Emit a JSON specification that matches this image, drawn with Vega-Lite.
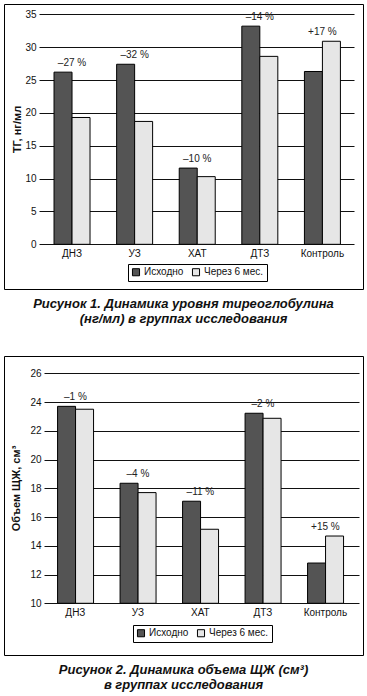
{
  "$schema": "https://vega.github.io/schema/vega-lite/v6.json",
  "padding": {"left": 3, "top": 3, "right": 0, "bottom": 0},
  "spacing": 28,
  "config": {
    "font": "Liberation Sans",
    "view": {"stroke": "black", "strokeWidth": 1},
    "axis": {"labelColor": "#111", "tickColor": "#111", "titleColor": "#111", "labelFont": "Liberation Sans", "titleFont": "Liberation Sans"},
    "legend": {"labelColor": "#111"}
  },
  "vconcat": [
    {
      "width": 359,
      "height": 285,
      "data": {"values": [
        {"group": "ДНЗ", "series": "Исходно", "value": 26.2, "label": "–27 %"},
        {"group": "ДНЗ", "series": "Через 6 мес.", "value": 19.3},
        {"group": "УЗ", "series": "Исходно", "value": 27.4, "label": "–32 %"},
        {"group": "УЗ", "series": "Через 6 мес.", "value": 18.7},
        {"group": "ХАТ", "series": "Исходно", "value": 11.6, "label": "–10 %"},
        {"group": "ХАТ", "series": "Через 6 мес.", "value": 10.3},
        {"group": "ДТЗ", "series": "Исходно", "value": 33.2, "label": "–14 %"},
        {"group": "ДТЗ", "series": "Через 6 мес.", "value": 28.6},
        {"group": "Контроль", "series": "Исходно", "value": 26.3, "label": "+17 %"},
        {"group": "Контроль", "series": "Через 6 мес.", "value": 30.9}
      ]},
      "title": {
        "text": ["Рисунок 1. Динамика уровня тиреоглобулина", "(нг/мл) в группах исследования"],
        "orient": "bottom", "anchor": "middle", "fontSize": 13, "fontStyle": "italic", "fontWeight": "bold",
        "offset": 9, "lineHeight": 15, "color": "#111"
      },
      "encoding": {
        "x": {
          "field": "group", "type": "nominal", "sort": null,
          "scale": {"paddingInner": 0.425, "paddingOuter": 0.58, "align": 0.689},
          "axis": {"orient": "bottom", "offset": -45, "domain": false, "ticks": false, "grid": false, "labelAngle": 0, "labelPadding": 4, "labelFontSize": 10, "title": null}
        },
        "y": {
          "field": "value", "type": "quantitative",
          "scale": {"domain": [-6.8, 36.57], "nice": false, "zero": false},
          "axis": {"values": [0, 5, 10, 15, 20, 25, 30, 35], "orient": "left", "offset": -350, "domain": false, "grid": false, "ticks": true, "tickSize": 315, "tickWidth": 1, "labelPadding": 3, "labelFontSize": 10, "title": "ТГ, нг/мл", "titleFontSize": 11, "titleFontWeight": "bold", "titleX": -337, "titleY": 125, "titleAngle": -90, "titleAlign": "center", "titleBaseline": "middle"}
        }
      },
      "layer": [
        {
          "mark": {"type": "bar", "stroke": "black", "strokeWidth": 1},
          "encoding": {
            "xOffset": {"field": "series", "type": "nominal", "sort": null, "scale": {"paddingInner": 0, "paddingOuter": 0}},
            "fill": {
              "field": "series", "type": "nominal",
              "scale": {"domain": ["Исходно", "Через 6 мес."], "range": ["#545454", "#e6e6e6"]},
              "legend": {"orient": "none", "legendX": 124, "legendY": 260, "direction": "horizontal", "title": null, "strokeColor": "black", "padding": 3, "symbolType": "square", "symbolSize": 50, "symbolStrokeColor": "black", "symbolStrokeWidth": 1, "labelFontSize": 10, "labelOffset": 3, "columnPadding": 6}
            }
          }
        },
        {
          "transform": [
            {"joinaggregate": [{"op": "max", "field": "value", "as": "top"}], "groupby": ["group"]},
            {"filter": "datum.series === 'Исходно'"}
          ],
          "mark": {"type": "text", "fontSize": 10, "baseline": "middle", "dy": -9, "color": "#222"},
          "encoding": {
            "y": {"field": "top", "type": "quantitative", "title": "ТГ, нг/мл"},
            "text": {"field": "label"}
          }
        }
      ]
    },
    {
      "width": 359,
      "height": 299,
      "data": {"values": [
        {"group": "ДНЗ", "series": "Исходно", "value": 23.7, "label": "–1 %"},
        {"group": "ДНЗ", "series": "Через 6 мес.", "value": 23.5},
        {"group": "УЗ", "series": "Исходно", "value": 18.35, "label": "–4 %"},
        {"group": "УЗ", "series": "Через 6 мес.", "value": 17.7},
        {"group": "ХАТ", "series": "Исходно", "value": 17.1, "label": "–11 %"},
        {"group": "ХАТ", "series": "Через 6 мес.", "value": 15.15},
        {"group": "ДТЗ", "series": "Исходно", "value": 23.22, "label": "–2 %"},
        {"group": "ДТЗ", "series": "Через 6 мес.", "value": 22.87},
        {"group": "Контроль", "series": "Исходно", "value": 12.8, "label": "+15 %"},
        {"group": "Контроль", "series": "Через 6 мес.", "value": 14.68}
      ]},
      "title": {
        "text": ["Рисунок 2. Динамика объема ЩЖ (см³)", "в группах исследования"],
        "orient": "bottom", "anchor": "middle", "fontSize": 13, "fontStyle": "italic", "fontWeight": "bold",
        "offset": 9, "lineHeight": 15, "color": "#111"
      },
      "encoding": {
        "x": {
          "field": "group", "type": "nominal", "sort": null,
          "scale": {"paddingInner": 0.43, "paddingOuter": 0.587, "align": 0.73},
          "axis": {"orient": "bottom", "offset": -51.7, "domain": false, "ticks": false, "grid": false, "labelAngle": 0, "labelPadding": 4, "labelFontSize": 10, "title": null}
        },
        "y": {
          "field": "value", "type": "quantitative",
          "scale": {"domain": [6.403, 27.203], "nice": false, "zero": false},
          "axis": {"values": [10, 12, 14, 16, 18, 20, 22, 24, 26], "orient": "left", "offset": -355, "domain": false, "grid": false, "ticks": true, "tickSize": 315, "tickWidth": 1, "labelPadding": 3, "labelFontSize": 10, "title": "Объем ЩЖ, см³", "titleFontSize": 11, "titleFontWeight": "bold", "titleX": -343, "titleY": 132, "titleAngle": -90, "titleAlign": "center", "titleBaseline": "middle"}
        }
      },
      "layer": [
        {
          "mark": {"type": "bar", "stroke": "black", "strokeWidth": 1},
          "encoding": {
            "xOffset": {"field": "series", "type": "nominal", "sort": null, "scale": {"paddingInner": 0, "paddingOuter": 0}},
            "y2": {"datum": 10},
            "fill": {
              "field": "series", "type": "nominal",
              "scale": {"domain": ["Исходно", "Через 6 мес."], "range": ["#545454", "#e6e6e6"]},
              "legend": {"orient": "none", "legendX": 129, "legendY": 269, "direction": "horizontal", "title": null, "strokeColor": "black", "padding": 3, "symbolType": "square", "symbolSize": 50, "symbolStrokeColor": "black", "symbolStrokeWidth": 1, "labelFontSize": 10, "labelOffset": 3, "columnPadding": 6}
            }
          }
        },
        {
          "transform": [
            {"joinaggregate": [{"op": "max", "field": "value", "as": "top"}], "groupby": ["group"]},
            {"filter": "datum.series === 'Исходно'"}
          ],
          "mark": {"type": "text", "fontSize": 10, "baseline": "middle", "dy": -9, "color": "#222"},
          "encoding": {
            "y": {"field": "top", "type": "quantitative", "title": "Объем ЩЖ, см³"},
            "text": {"field": "label"}
          }
        }
      ]
    }
  ],
  "resolve": {"scale": {"fill": "independent"}}
}
